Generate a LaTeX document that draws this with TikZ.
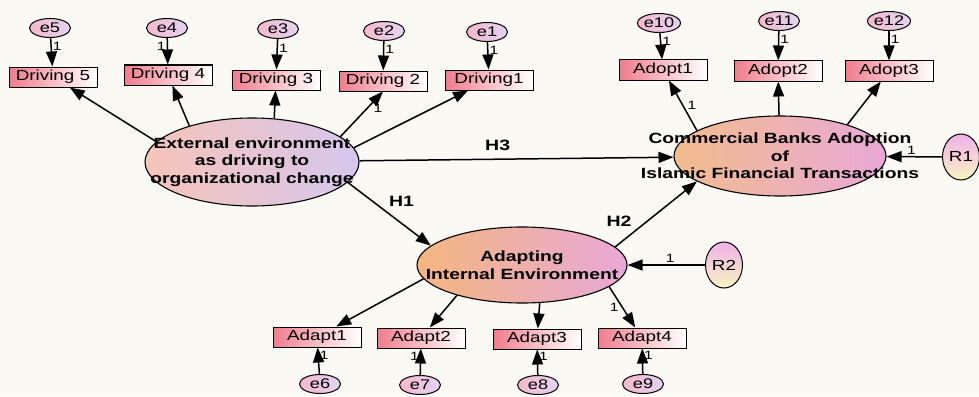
\documentclass[tikz,border=0pt]{standalone}
\usepackage{fontspec}
\setmainfont{Liberation Sans}[FakeStretch=1.3]
\usetikzlibrary{arrows.meta, shapes.geometric}
\definecolor{cbg}{HTML}{FBF9F3}
\definecolor{boxpink}{HTML}{F07C8C}
\definecolor{errpink}{HTML}{F4B8CC}
\definecolor{errlav}{HTML}{E2D4F2}
\definecolor{respink}{HTML}{F0B0EA}
\definecolor{resyel}{HTML}{F8F4C0}
\definecolor{extpeach}{HTML}{F6C4B8}
\definecolor{extlav}{HTML}{D6C6EE}
\definecolor{comorange}{HTML}{F2BC8C}
\definecolor{compink}{HTML}{E8A8D8}

\begin{document}
\begin{tikzpicture}[x=1pt, y=-1pt,
  obs/.style={draw, line width=1pt, left color=boxpink, right color=white,
    minimum width=88pt, minimum height=20pt, inner sep=0pt,
    font=\fontsize{14.5}{16}\selectfont},
  err/.style={ellipse, draw, line width=1pt, left color=errpink, right color=errlav,
    minimum width=41pt, minimum height=19pt, inner sep=0pt,
    font=\fontsize{14}{15}\selectfont},
  res/.style={ellipse, draw, line width=1pt, top color=respink, bottom color=resyel,
    minimum width=37pt, minimum height=46pt, inner sep=0pt,
    font=\fontsize{14.5}{16}\selectfont},
  latent/.style={ellipse, draw, line width=1.1pt, inner sep=0pt},
  bigtxt/.style={font=\fontsize{14.8}{17.5}\selectfont\bfseries, align=center},
  link/.style={-{Triangle[length=15pt,width=11pt]}, line width=1.5pt},
  wt/.style={font=\fontsize{12}{13}\selectfont, inner sep=1pt},
  hyp/.style={font=\fontsize{15}{16}\selectfont\bfseries}
]
  \useasboundingbox (0,0) rectangle (979,396);
  \fill[cbg] (0,0) rectangle (979,396);

  % latent variables
  \node[latent, left color=extpeach, right color=extlav, minimum width=214pt, minimum height=88pt,
    label={[bigtxt]center:{External environment\\as driving to\\organizational change}}] (ext) at (252,162) {};
  \node[latent, left color=comorange, right color=compink, minimum width=212pt, minimum height=80pt,
    label={[bigtxt]center:{Commercial Banks Adoption\\of\\Islamic Financial Transactions}}] (com) at (780,156) {};
  \node[latent, left color=comorange!90!orange, right color=compink, minimum width=210pt, minimum height=76pt,
    label={[bigtxt]center:{Adapting\\Internal Environment}}] (adp) at (522,265) {};

  % residuals
  \node[res] (r1) at (961,157) {R1};
  \node[res] (r2) at (724,265) {R2};

  % indicators
  \node[obs] (d5) at (53,77) {Driving 5};
  \node[obs] (d4) at (168,75) {Driving 4};
  \node[obs] (d3) at (276,80) {Driving 3};
  \node[obs] (d2) at (383,81) {Driving 2};
  \node[obs] (d1) at (489,80) {Driving1};
  \node[obs] (a1) at (663,70) {Adopt1};
  \node[obs] (a2) at (778,71) {Adopt2};
  \node[obs] (a3) at (889,71) {Adopt3};
  \node[obs] (p1) at (317,337) {Adapt1};
  \node[obs] (p2) at (421,338) {Adapt2};
  \node[obs] (p3) at (537,339) {Adapt3};
  \node[obs] (p4) at (642,338) {Adapt4};

  % error terms
  \node[err] (e5) at (50,28) {e5};
  \node[err] (e4) at (167,28) {e4};
  \node[err] (e3) at (278,29) {e3};
  \node[err] (e2) at (384,31) {e2};
  \node[err] (e1) at (487,32) {e1};
  \node[err] (e10) at (659,23) {e10};
  \node[err] (e11) at (779,21) {e11};
  \node[err] (e12) at (889,21) {e12};
  \node[err] (e6) at (320,384) {e6};
  \node[err] (e7) at (420,385) {e7};
  \node[err] (e8) at (538,385) {e8};
  \node[err] (e9) at (643,384) {e9};

  \foreach \e/\d/\s in {e5/d5/right, e4/d4/left, e3/d3/right, e2/d2/right, e1/d1/right,
    e10/a1/right, e11/a2/right, e12/a3/right}
    \draw[link] (\e) -- node[wt, pos=.3, \s] (w\e) {1} (\d);
  \foreach \e/\d/\s in {e6/p1/right, e7/p2/left, e8/p3/right, e9/p4/right}
    \draw[link] (\e) -- node[wt, pos=.72, \s] (w\e) {1} (\d);

  % loadings
  \draw[link] (ext.168) -- (d5);
  \draw[link] (ext.150) -- (d4);
  \draw[link] (ext.63) -- (d3);
  \draw[link] (ext.16) -- node[wt, pos=.62, right=5pt] (wd2) {1} (d2.south);
  \draw[link] (ext.8) -- (d1);
  \draw[link] (com.163) -- node[wt, right=3pt] (wa1) {1} (a1);
  \draw[link] (com) -- (a2);
  \draw[link] (com.25) -- (a3);
  \draw[link] (adp.188) -- (p1);
  \draw[link] (adp.205) -- (p2);
  \draw[link] (adp.-65) -- (p3);
  \draw[link] (adp.-14) -- node[wt, left=2pt] (wp4) {1} (p4);

  % structural paths
  \draw[link] (ext) -- node[hyp, pos=.44, above=4pt] (h3) {H3} (com);
  \draw[link] (ext.-12) -- node[hyp, pos=.45, above right] (h1) {H1} (adp.168);
  \draw[link] (adp.11) -- node[hyp, pos=.25, above left] (h2) {H2} (com.197);
  \draw[link] (r1) -- node[wt, pos=.55, above] (wr1) {1} (com);
  \draw[link] (r2) -- node[wt, pos=.45, above=1pt] (wr2) {1} (adp);
\end{tikzpicture}
\end{document}
